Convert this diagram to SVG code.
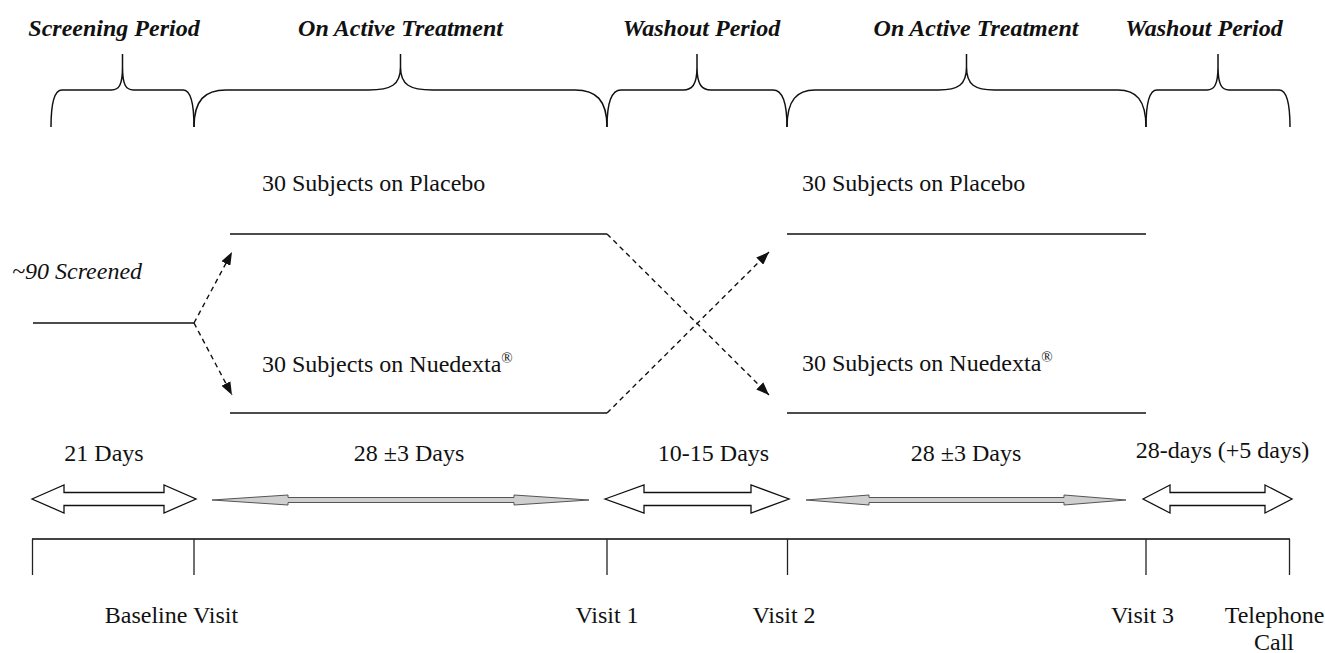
<svg xmlns="http://www.w3.org/2000/svg" width="1325" height="653" viewBox="0 0 1325 653">
<style>
.hdr{font-family:"Liberation Serif","Times New Roman",serif;font-size:24px;font-weight:bold;font-style:italic;fill:#111;text-anchor:middle}
.t{font-family:"Liberation Serif","Times New Roman",serif;font-size:24px;fill:#111}
.c{text-anchor:middle}
.brace{fill:none;stroke:#111;stroke-width:1.5}
.solid{fill:none;stroke:#111;stroke-width:1.5}
.dash{fill:none;stroke:#111;stroke-width:1.4;stroke-dasharray:5 4}
.warrow{fill:#fff;stroke:#111;stroke-width:1.3}
.garrow{fill:#cfcfcf;stroke:#555;stroke-width:1}
.tick{stroke:#222;stroke-width:1.3}
</style>
<defs>
<marker id="ah" markerUnits="userSpaceOnUse" markerWidth="13" markerHeight="10" refX="13" refY="5" orient="auto">
<path d="M0,0 L13,5 L0,10 z" fill="#111"/>
</marker>
</defs>
<rect width="1325" height="653" fill="#fff"/>

<g id="headers">
<text class="hdr" x="114" y="36">Screening Period</text>
<text class="hdr" x="400.5" y="36">On Active Treatment</text>
<text class="hdr" x="701.5" y="36">Washout Period</text>
<text class="hdr" x="976" y="36">On Active Treatment</text>
<text class="hdr" x="1204" y="36">Washout Period</text>
</g>

<g id="braces">
<path class="brace" d="M51,127 C51,100 55,90 62,90 L111.5,90 C119,90 122.5,85 122.5,67 L122.5,54 L122.5,67 C122.5,85 126,90 133.5,90 L183,90 C190,90 194,100 194,127"/>
<path class="brace" d="M194,127 C194,100 205,90 226,90 L368.5,90 C391,90 400.5,85 400.5,67 L400.5,54 L400.5,67 C400.5,85 410,90 432.5,90 L575,90 C596,90 607,100 607,127"/>
<path class="brace" d="M607,127 C607,100 612,90 621,90 L683,90 C692,90 697,85 697,67 L697,54 L697,67 C697,85 702,90 711,90 L773,90 C782,90 787,100 787,127"/>
<path class="brace" d="M787,127 C787,100 797,90 815,90 L938.5,90 C958,90 966.5,85 966.5,67 L966.5,54 L966.5,67 C966.5,85 975,90 994.5,90 L1118,90 C1136,90 1146,100 1146,127"/>
<path class="brace" d="M1146,127 C1146,100 1150,90 1157,90 L1207,90 C1214,90 1218,85 1218,67 L1218,54 L1218,67 C1218,85 1222,90 1229,90 L1279,90 C1286,90 1290,100 1290,127"/>
</g>

<g id="screened">
<text class="t" x="12" y="279" font-style="italic">~90 Screened</text>
</g>
<g id="placebo-1">
<text class="t" x="262" y="191">30 Subjects on Placebo</text>
</g>
<g id="nuedexta-1">
<text class="t" x="262" y="372">30 Subjects on Nuedexta<tspan font-size="15" dy="-9">®</tspan></text>
</g>
<g id="placebo-2">
<text class="t" x="802" y="191">30 Subjects on Placebo</text>
</g>
<g id="nuedexta-2">
<text class="t" x="802" y="371">30 Subjects on Nuedexta<tspan font-size="15" dy="-9">®</tspan></text>
</g>

<g id="connectors">
<line class="solid" x1="33" y1="323" x2="194" y2="323"/>
<line class="solid" x1="230" y1="234" x2="607" y2="234"/>
<line class="solid" x1="230" y1="413" x2="607" y2="413"/>
<line class="solid" x1="787" y1="234" x2="1146" y2="234"/>
<line class="solid" x1="787" y1="413" x2="1146" y2="413"/>
<path class="dash" d="M194,323 L232,252" marker-end="url(#ah)"/>
<path class="dash" d="M194,323 L232,395" marker-end="url(#ah)"/>
<path class="dash" d="M607,234 L769,395" marker-end="url(#ah)"/>
<path class="dash" d="M607,413 L769,252" marker-end="url(#ah)"/>
</g>

<g id="durations">
<text class="t c" x="104" y="461">21 Days</text>
<text class="t c" x="409" y="461">28 ±3 Days</text>
<text class="t c" x="713.5" y="461">10-15 Days</text>
<text class="t c" x="966" y="461">28 ±3 Days</text>
<text class="t c" x="1222.5" y="458">28-days (+5 days)</text>
<polygon class="warrow" points="32,499 64,485 64,492.5 164,492.5 164,485 196,499 164,513 164,505.5 64,505.5 64,513"/>
<polygon class="garrow" points="212,500 288,495 288,497.5 514,497.5 514,495 589,500 514,505 514,502.5 288,502.5 288,505"/>
<polygon class="warrow" points="605,499 644,485 644,492.5 751,492.5 751,485 789,499 751,513 751,505.5 644,505.5 644,513"/>
<polygon class="garrow" points="806,500 869,495 869,497.5 1064,497.5 1064,495 1126,500 1064,505 1064,502.5 869,502.5 869,505"/>
<polygon class="warrow" points="1143,499 1170,485 1170,492.5 1265,492.5 1265,485 1292,499 1265,513 1265,505.5 1170,505.5 1170,513"/>
</g>

<g id="timeline">
<line x1="32" y1="539" x2="1290" y2="539" stroke="#444" stroke-width="1.8"/>
<line class="tick" x1="32.5" y1="539" x2="32.5" y2="575"/>
<line class="tick" x1="194" y1="539" x2="194" y2="575"/>
<line class="tick" x1="607" y1="539" x2="607" y2="575"/>
<line class="tick" x1="787.5" y1="539" x2="787.5" y2="575"/>
<line class="tick" x1="1146" y1="539" x2="1146" y2="575"/>
<line class="tick" x1="1289.5" y1="539" x2="1289.5" y2="575"/>
</g>

<g id="visits">
<text class="t c" x="171.5" y="623">Baseline Visit</text>
<text class="t c" x="607" y="623">Visit 1</text>
<text class="t c" x="784" y="623">Visit 2</text>
<text class="t c" x="1142.5" y="623">Visit 3</text>
<text class="t c" x="1274.5" y="623">Telephone</text>
<text class="t c" x="1274" y="650">Call</text>
</g>
</svg>
